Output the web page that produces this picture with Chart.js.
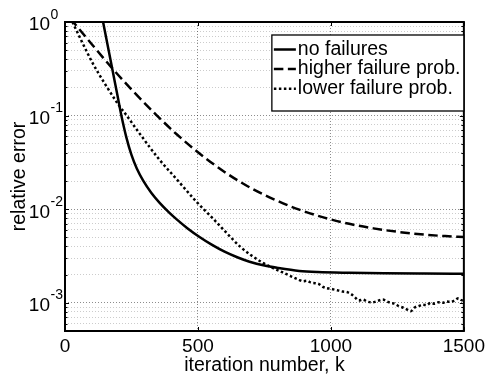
<!DOCTYPE html>
<html>
<head>
<meta charset="utf-8">
<title>relative error vs iteration</title>
<script src="https://cdn.jsdelivr.net/npm/chart.js@4.4.1/dist/chart.umd.min.js"></script>
<style>
    html, body { margin: 0; padding: 0; background: #fff; }
    #chart { display: block; }
</style>
</head>
<body>
<canvas id="chart" width="489" height="376"></canvas>
<script>
// Valeurs : k = itération, err = erreur relative
const noFailK = [120, 144, 160, 181, 197, 212, 230, 250, 270, 294, 325, 356, 390, 419, 460, 506,
    550, 600, 650, 694, 750, 800, 881, 950, 1069, 1200, 1350, 1500];
const noFailErr = [2.19, 0.977, 0.571, 0.283, 0.166, 0.100, 0.0596, 0.0380, 0.0272, 0.0202, 0.0149,
    0.01169, 0.00931, 0.00783, 0.00627, 0.00505, 0.00421, 0.00352, 0.00305, 0.00275, 0.0025,
    0.002358, 0.002188, 0.002128, 0.002089, 0.002065, 0.002051, 0.002042];

const highK = [20, 31, 100, 181, 250, 344, 420, 500, 600, 694, 790, 881, 975, 1069, 1160, 1256,
    1350, 1430, 1500];
const highErr = [1.09, 1.0, 0.5825, 0.312, 0.1905, 0.1013, 0.0632, 0.0406, 0.02503, 0.01714, 0.01259,
    0.00989, 0.00813, 0.00698, 0.00624, 0.00571, 0.00536, 0.00516, 0.00504];

const lowK = [20, 28, 60, 106, 150, 200, 232, 280, 356, 420, 494, 560, 620, 660, 700, 740, 780,
    819, 850, 880, 895, 910, 925, 940, 955, 970, 985, 1000, 1015, 1030, 1045, 1060, 1075, 1090,
    1105, 1120, 1135, 1150, 1165, 1180, 1195, 1210, 1225, 1240, 1255, 1270, 1285, 1300, 1315,
    1330, 1345, 1360, 1375, 1390, 1405, 1420, 1435, 1450, 1465, 1480, 1490, 1500];
const lowErr = [1.12, 1.0, 0.646, 0.355, 0.219, 0.132, 0.100, 0.0646, 0.0336, 0.0209, 0.01205,
    0.00776, 0.00513, 0.00395, 0.00322, 0.00272, 0.00237, 0.00211, 0.00192, 0.001758, 0.001698,
    0.001718, 0.001641, 0.001622, 0.001585, 0.001479, 0.001429, 0.001413, 0.00138, 0.001349,
    0.001318, 0.001303, 0.001245, 0.001148, 0.001059, 0.001084, 0.001035, 0.001012, 0.001023,
    0.001059, 0.001084, 0.001035, 0.001000, 0.000977, 0.000923, 0.000891, 0.000851, 0.000813,
    0.000891, 0.000923, 0.000955, 0.000944, 0.001000, 0.000977, 0.001012, 0.001000, 0.001035,
    0.001023, 0.001059, 0.001122, 0.001072, 0.001047];

const seriesLabels = ['no failures', 'higher failure prob.', 'lower failure prob.'];
const xTicks = [0, 500, 1000, 1500];
const yDecades = [1e-3, 1e-2, 1e-1, 1];
const yExponents = ['-3', '-2', '-1', '0'];
const yMin = 5e-4;
const yMax = 1;

const FONT = '"Liberation Sans", Arial, Helvetica, sans-serif';

function toPoints(ks, vals) {
    return ks.map((k, i) => ({ x: k, y: vals[i] }));
}

function isDecade(v) {
    const l = Math.log10(v);
    return Math.abs(l - Math.round(l)) < 1e-9;
}

// Lignes de grille 1..9 x 10^n comme sous MATLAB
const yGridValues = [];
for (let e = -4; e <= 0; e++) {
    for (let m = 1; m <= 9; m++) {
        const v = Number((m * Math.pow(10, e)).toPrecision(3));
        if (v >= yMin && v <= yMax) yGridValues.push(v);
    }
}

/**
 * Cadre noir et petites graduations intérieures
 */
const axesBox = {
    id: 'axesBox',
    afterDatasetsDraw(chart) {
        const { ctx, chartArea: a, scales: { x, y } } = chart;
        ctx.save();
        ctx.strokeStyle = '#000';
        ctx.lineWidth = 1;
        ctx.beginPath();
        y.ticks.forEach(t => {
            const py = Math.round(y.getPixelForValue(t.value)) + 0.5;
            const len = isDecade(t.value) ? 4 : 2.5;
            ctx.moveTo(a.left, py); ctx.lineTo(a.left + len, py);
            ctx.moveTo(a.right, py); ctx.lineTo(a.right - len, py);
        });
        x.ticks.forEach(t => {
            const px = Math.round(x.getPixelForValue(t.value)) + 0.5;
            ctx.moveTo(px, a.bottom); ctx.lineTo(px, a.bottom - 4);
            ctx.moveTo(px, a.top); ctx.lineTo(px, a.top + 4);
        });
        ctx.stroke();
        ctx.lineWidth = 2;
        ctx.strokeRect(a.left, a.top, a.right - a.left, a.bottom - a.top);
        ctx.restore();
    }
};

/**
 * Étiquettes 10^n avec exposant surélevé
 */
const decadeLabels = {
    id: 'decadeLabels',
    afterDraw(chart) {
        const { ctx, chartArea: a, scales: { y } } = chart;
        ctx.save();
        ctx.fillStyle = '#000';
        ctx.textBaseline = 'alphabetic';
        yDecades.forEach((v, i) => {
            const py = y.getPixelForValue(v);
            ctx.font = '19px ' + FONT;
            ctx.textAlign = 'right';
            ctx.fillText('10', a.left - 15, py + 8.3);
            ctx.font = '14px ' + FONT;
            ctx.textAlign = 'left';
            ctx.fillText(yExponents[i], a.left - 14.5, py - 3.4);
        });
        ctx.restore();
    }
};

/**
 * Légende encadrée dans le coin haut droit
 */
const boxLegend = {
    id: 'boxLegend',
    afterDraw(chart) {
        const { ctx, chartArea: a } = chart;
        const left = a.right - 192;
        const top = a.top + 13;
        ctx.save();
        ctx.fillStyle = '#fff';
        ctx.fillRect(left, top, a.right - left, 76);
        ctx.strokeStyle = '#000';
        ctx.lineWidth = 1.3;
        ctx.strokeRect(left, top, a.right - left, 76);
        chart.data.datasets.forEach((ds, i) => {
            const cy = top + 14.5 + i * 19.6;
            ctx.strokeStyle = ds.borderColor;
            ctx.lineWidth = ds.borderWidth;
            ctx.setLineDash(ds.borderDash || []);
            ctx.beginPath();
            ctx.moveTo(left + 2, cy);
            ctx.lineTo(left + 24, cy);
            ctx.stroke();
            ctx.setLineDash([]);
            ctx.fillStyle = '#000';
            ctx.font = '19.5px ' + FONT;
            ctx.textAlign = 'left';
            ctx.textBaseline = 'middle';
            ctx.fillText(ds.label, left + 26, cy);
        });
        ctx.restore();
    }
};

document.addEventListener('DOMContentLoaded', function() {
    const ctx = document.getElementById('chart').getContext('2d');

    const dashes = [[], [9.5, 4.5], [2.5, 2.5]];
    const pointSets = [toPoints(noFailK, noFailErr), toPoints(highK, highErr), toPoints(lowK, lowErr)];

    new Chart(ctx, {
        type: 'line',
        data: {
            datasets: pointSets.map((pts, i) => ({
                label: seriesLabels[i],
                data: pts,
                borderColor: '#000',
                borderWidth: 2.5,
                borderDash: dashes[i],
                pointRadius: 0,
                fill: false,
                tension: 0.4,
                cubicInterpolationMode: 'monotone',
                clip: 0
            }))
        },
        options: {
            responsive: false,
            animation: false,
            devicePixelRatio: 1,
            layout: { padding: { left: 0, right: 24, top: 22, bottom: 0 } },
            plugins: {
                legend: { display: false },
                tooltip: { enabled: false }
            },
            scales: {
                x: {
                    type: 'linear',
                    min: 0,
                    max: 1500,
                    afterBuildTicks: scale => { scale.ticks = xTicks.map(v => ({ value: v })); },
                    afterFit: scale => { scale.height = 45; },
                    ticks: {
                        color: '#000',
                        font: { family: FONT, size: 19 },
                        padding: 4,
                        maxRotation: 0,
                        callback: v => String(v)
                    },
                    grid: { color: 'rgba(0,0,0,0.45)', lineWidth: 1, drawTicks: false },
                    border: { display: false, dash: [1, 2] },
                    title: {
                        display: true,
                        text: 'iteration number, k',
                        color: '#000',
                        font: { family: FONT, size: 19.5, lineHeight: 1 },
                        padding: { top: 0, bottom: 1 }
                    }
                },
                y: {
                    type: 'logarithmic',
                    min: yMin,
                    max: yMax,
                    afterBuildTicks: scale => { scale.ticks = yGridValues.map(v => ({ value: v })); },
                    afterFit: scale => { scale.width = 65; },
                    ticks: { display: false },
                    grid: {
                        color: c => (c.tick && isDecade(c.tick.value)) ? 'rgba(0,0,0,0.45)' : 'rgba(0,0,0,0.2)',
                        lineWidth: 1,
                        drawTicks: false
                    },
                    border: { display: false, dash: [1, 2] },
                    title: {
                        display: true,
                        text: 'relative error',
                        color: '#000',
                        font: { family: FONT, size: 19.5, lineHeight: 1 },
                        padding: { top: 10, bottom: 0 }
                    }
                }
            }
        },
        plugins: [axesBox, decadeLabels, boxLegend]
    });
});
</script>
</body>
</html>
